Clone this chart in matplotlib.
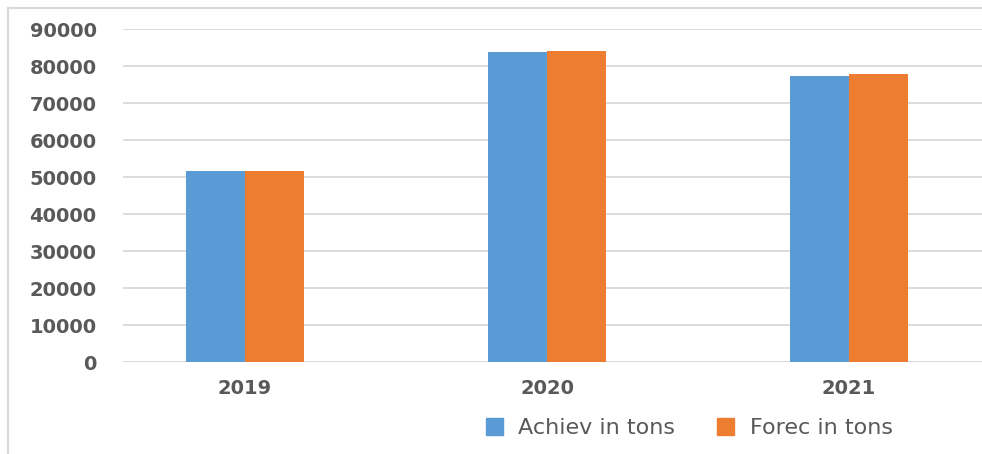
import matplotlib

matplotlib.use("Agg")
import matplotlib.pyplot as plt
import numpy as np
from matplotlib.lines import Line2D
from matplotlib.patches import Patch

years = ["2019", "2020", "2021"]
achieved = [51600, 83800, 77400]
forecast = [51600, 84100, 77900]
series_names = ["Achiev in tons", "Forec in tons"]

BLUE = "#5b9bd5"
ORANGE = "#ed7d31"
GRID = "#d9d9d9"
TEXT = "#595959"

fig = plt.figure(figsize=(9.82, 4.54), dpi=100)
ax = fig.add_axes([0.1253, 0.2026, 0.8747, 0.7329])

x = np.arange(len(years))
width = 0.195
ax.bar(x - width / 2, achieved, width, color=BLUE, zorder=3)
ax.bar(x + width / 2, forecast, width, color=ORANGE, zorder=3)

ax.set_ylim(0, 90000)
ax.set_xlim(-0.404, 2.44)
ax.set_yticks(range(0, 90001, 10000))
ax.set_xticks(x)
ax.set_xticklabels(years)
ax.yaxis.grid(True, color=GRID, linewidth=1.3, zorder=0)
ax.set_axisbelow(True)
for s in ax.spines.values():
    s.set_visible(False)
ax.tick_params(axis="both", length=0, labelcolor=TEXT, labelsize=14)
ax.tick_params(axis="y", pad=19)
ax.tick_params(axis="x", pad=12)
for lbl in ax.get_xticklabels() + ax.get_yticklabels():
    lbl.set_fontweight("bold")

handles = [Patch(color=BLUE), Patch(color=ORANGE)]
fig.legend(handles, series_names, loc="center", bbox_to_anchor=(0.702, 0.057),
           ncol=2, frameon=False, fontsize=16, labelcolor=TEXT,
           handlelength=0.75, handleheight=0.75, handletextpad=0.7, columnspacing=1.9)

# light frame on the top and left edges
fig.add_artist(Line2D([8 / 982, 8 / 982], [0, 1 - 8 / 454], color=GRID, lw=1.5))
fig.add_artist(Line2D([8 / 982, 1], [1 - 8 / 454, 1 - 8 / 454], color=GRID, lw=1.5))

fig.savefig("out.png", dpi=100)
